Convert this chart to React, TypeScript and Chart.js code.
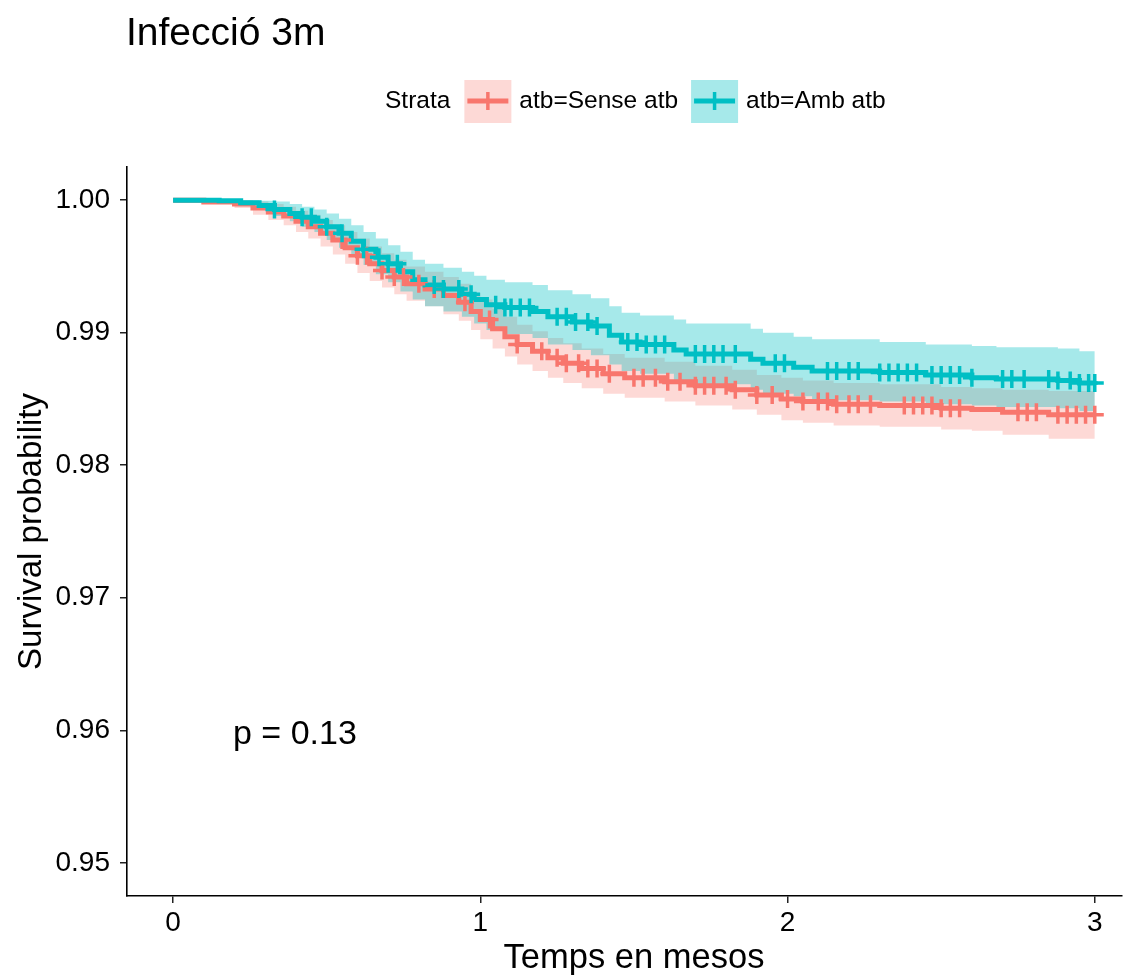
import React, { useEffect, useRef } from "react";
import { Chart, registerables } from "chart.js";

Chart.register(...registerables);

const TITLE = "Infecció 3m";
const LEGEND_TITLE = "Strata";
const SERIES_NAMES = ["atb=Sense atb", "atb=Amb atb"];
const X_TITLE = "Temps en mesos";
const Y_TITLE = "Survival probability";
const X_TICKS = [0, 1, 2, 3];
const Y_TICKS = [0.95, 0.96, 0.97, 0.98, 0.99, 1.0];
const P_LABEL = "p = 0.13";
const P_POS = [0.195, 0.9597];

const RED = "#F8766D";
const TEAL = "#00BFC4";
const RED_FILL = "rgba(248,118,109,0.28)";
const TEAL_FILL = "rgba(0,191,196,0.35)";

// atb=Sense atb
const senseTime = [0, 0.1, 0.2, 0.26, 0.31, 0.36, 0.4, 0.44, 0.48, 0.52, 0.56, 0.6, 0.64, 0.68, 0.72, 0.76, 0.82, 0.88, 0.93, 0.97, 1.0, 1.04, 1.08, 1.12, 1.17, 1.22, 1.27, 1.33, 1.4, 1.47, 1.6, 1.7, 1.82, 1.9, 1.98, 2.05, 2.15, 2.3, 2.5, 2.6, 2.7, 2.85, 3.0];
const senseSurv = [1.0, 0.99985, 0.9997, 0.9994, 0.9991, 0.9988, 0.9984, 0.998, 0.9975, 0.997, 0.9964, 0.9958, 0.9952, 0.9947, 0.9942, 0.9937, 0.9933, 0.9928, 0.9923, 0.9916, 0.991, 0.9903, 0.9897, 0.9891, 0.9886, 0.9881, 0.9877, 0.9873, 0.9869, 0.9866, 0.9863, 0.986, 0.9857, 0.9853, 0.985, 0.9848, 0.9846, 0.9845, 0.9843, 0.9842, 0.984, 0.9838, 0.9838];
const senseUpper = [1.0, 1.0, 1.0, 0.9999, 0.9997, 0.9995, 0.9992, 0.9989, 0.9985, 0.9981, 0.9976, 0.9971, 0.9965, 0.996, 0.9955, 0.995, 0.9946, 0.9942, 0.9937, 0.993, 0.9925, 0.9918, 0.9912, 0.9906, 0.9901, 0.9896, 0.9892, 0.9888, 0.9884, 0.9881, 0.9878, 0.9875, 0.9872, 0.9868, 0.9866, 0.9864, 0.9862, 0.9861, 0.9859, 0.9858, 0.9857, 0.9856, 0.9856];
const senseLower = [1.0, 0.9997, 0.9994, 0.9989, 0.9985, 0.9981, 0.9976, 0.9971, 0.9965, 0.9959, 0.9952, 0.9945, 0.9939, 0.9934, 0.9929, 0.9924, 0.992, 0.9914, 0.9909, 0.9902, 0.9895, 0.9888, 0.9882, 0.9876, 0.9871, 0.9866, 0.9862, 0.9858, 0.9854, 0.9851, 0.9848, 0.9845, 0.9842, 0.9838, 0.9834, 0.9832, 0.983, 0.9829, 0.9827, 0.9826, 0.9823, 0.982, 0.982];
const senseCensor = [0.55, 0.6, 0.63, 0.68, 0.72, 0.75, 0.8, 0.85, 0.95, 1.03, 1.12, 1.2, 1.25, 1.28, 1.32, 1.35, 1.38, 1.42, 1.5, 1.53, 1.57, 1.61, 1.65, 1.7, 1.73, 1.76, 1.8, 1.83, 1.9, 1.95, 2.0, 2.05, 2.1, 2.13, 2.16, 2.2, 2.23, 2.27, 2.38, 2.41, 2.44, 2.47, 2.5, 2.53, 2.56, 2.75, 2.78, 2.81, 2.88, 2.91, 2.94, 2.97, 3.0];

// atb=Amb atb
const ambTime = [0, 0.15, 0.22, 0.28, 0.33, 0.38, 0.42, 0.46, 0.5, 0.54, 0.58, 0.62, 0.66, 0.7, 0.74, 0.78, 0.82, 0.88, 0.94, 0.98, 1.02, 1.08, 1.17, 1.22, 1.3, 1.36, 1.42, 1.46, 1.52, 1.63, 1.67, 1.88, 1.92, 2.02, 2.08, 2.3, 2.45, 2.6, 2.68, 2.88, 2.95, 3.0];
const ambSurv = [1.0, 0.99995, 0.9998, 0.9996, 0.9993, 0.999, 0.9987, 0.9984, 0.998, 0.9975, 0.9969, 0.9963, 0.9957, 0.9952, 0.9946, 0.994, 0.9936, 0.9933, 0.9929, 0.9925, 0.9921, 0.9919, 0.9916, 0.9912, 0.9908, 0.9905, 0.9898, 0.9893, 0.9891, 0.9887, 0.9884, 0.988, 0.9877, 0.9874, 0.9871, 0.987, 0.9868, 0.9866, 0.9865, 0.9864, 0.9862, 0.9862];
const ambUpper = [1.0, 1.0, 1.0, 0.99995, 0.9999, 0.9997, 0.9995, 0.9993, 0.999, 0.9986, 0.9981, 0.9976, 0.9971, 0.9966, 0.9961, 0.9955, 0.9952, 0.9949, 0.9946, 0.9943, 0.994, 0.9938, 0.9936, 0.9932, 0.9929, 0.9926, 0.992, 0.9915, 0.9913, 0.991, 0.9907, 0.9903, 0.99, 0.9897, 0.9895, 0.9893, 0.9891, 0.989, 0.9889, 0.9888, 0.9886, 0.9886];
const ambLower = [1.0, 0.9999, 0.9996, 0.9993, 0.9988, 0.9984, 0.998, 0.9976, 0.997, 0.9964, 0.9958, 0.9951, 0.9944, 0.9938, 0.9931, 0.9925, 0.992, 0.9916, 0.9912, 0.9907, 0.9902, 0.9899, 0.9896, 0.9891, 0.9887, 0.9883, 0.9876, 0.9871, 0.9869, 0.9864, 0.9861, 0.9857, 0.9854, 0.9852, 0.9849, 0.9848, 0.9846, 0.9845, 0.9844, 0.9843, 0.9841, 0.9841];
const ambCensor = [0.33, 0.42, 0.45, 0.5, 0.55, 0.62, 0.67, 0.7, 0.73, 0.85, 0.88, 0.93, 0.97, 1.05, 1.08, 1.1, 1.13, 1.16, 1.25, 1.28, 1.31, 1.35, 1.38, 1.48, 1.51, 1.54, 1.57, 1.6, 1.7, 1.73, 1.76, 1.79, 1.83, 1.96, 1.99, 2.13, 2.16, 2.2, 2.23, 2.3, 2.33, 2.36, 2.39, 2.42, 2.47, 2.5, 2.53, 2.56, 2.6, 2.7, 2.73, 2.77, 2.85, 2.88, 2.92, 2.95, 2.98, 3.0];

const FONT = '"Liberation Sans", Arial, Helvetica, sans-serif';

function pts(times: number[], vals: number[]) {
  return times.map((t, i) => ({ x: t, y: vals[i] }));
}
function stepAt(times: number[], vals: number[], t: number) {
  let v = vals[0];
  for (let i = 0; i < times.length; i++) {
    if (times[i] <= t) v = vals[i];
  }
  return v;
}
function censorPts(c: number[], times: number[], vals: number[]) {
  return c.map((t) => ({ x: t, y: stepAt(times, vals, t) }));
}

const textPlugin = {
  id: "kmTexts",
  afterDraw(chart: any) {
    const ctx = chart.ctx;
    ctx.save();
    ctx.fillStyle = "#000";
    ctx.textAlign = "left";
    ctx.textBaseline = "middle";
    ctx.font = `39px ${FONT}`;
    ctx.fillText(TITLE, 126, 34);

    ctx.font = `24.5px ${FONT}`;
    let x = 385;
    const cy = 101;
    ctx.fillText(LEGEND_TITLE, x, cy);
    x += ctx.measureText(LEGEND_TITLE).width + 14;
    const keys = [
      { fill: RED_FILL, line: RED, label: SERIES_NAMES[0] },
      { fill: TEAL_FILL, line: TEAL, label: SERIES_NAMES[1] },
    ];
    keys.forEach((k) => {
      ctx.fillStyle = k.fill;
      ctx.fillRect(x, cy - 21, 47, 43);
      ctx.strokeStyle = k.line;
      ctx.lineWidth = 5;
      ctx.beginPath();
      ctx.moveTo(x + 3, cy);
      ctx.lineTo(x + 44, cy);
      ctx.stroke();
      ctx.lineWidth = 3.5;
      ctx.beginPath();
      ctx.moveTo(x + 23.5, cy - 9);
      ctx.lineTo(x + 23.5, cy + 9);
      ctx.stroke();
      x += 47 + 8;
      ctx.fillStyle = "#000";
      ctx.fillText(k.label, x, cy);
      x += ctx.measureText(k.label).width + 13;
    });

    const xs = chart.scales.x;
    const ys = chart.scales.y;
    ctx.font = `34px ${FONT}`;
    ctx.fillText(P_LABEL, xs.getPixelForValue(P_POS[0]), ys.getPixelForValue(P_POS[1]));

    // x-axis title centred on the full (uncropped) panel width
    ctx.font = `34.5px ${FONT}`;
    ctx.textAlign = "center";
    ctx.fillText(X_TITLE, 634, 958);
    ctx.restore();
  },
};

export default function App() {
  const ref = useRef<HTMLCanvasElement | null>(null);
  useEffect(() => {
    document.body.style.margin = "0";
    const canvas = ref.current!;
    const bandCommon = { pointRadius: 0, borderWidth: 0, stepped: true as const, tension: 0 };
    const chart = new Chart(canvas, {
      type: "line",
      data: {
        datasets: [
          { label: "senseUpper", data: pts(senseTime, senseUpper), fill: "+1", backgroundColor: RED_FILL, borderColor: "rgba(0,0,0,0)", order: 7, ...bandCommon },
          { label: "senseLower", data: pts(senseTime, senseLower), fill: false, borderColor: "rgba(0,0,0,0)", order: 6, ...bandCommon },
          { label: "ambUpper", data: pts(ambTime, ambUpper), fill: "+1", backgroundColor: TEAL_FILL, borderColor: "rgba(0,0,0,0)", order: 5, ...bandCommon },
          { label: "ambLower", data: pts(ambTime, ambLower), fill: false, borderColor: "rgba(0,0,0,0)", order: 4, ...bandCommon },
          { label: SERIES_NAMES[0], data: pts(senseTime, senseSurv), fill: false, borderColor: RED, borderWidth: 5, pointRadius: 0, stepped: true, order: 3 },
          { label: SERIES_NAMES[1], data: pts(ambTime, ambSurv), fill: false, borderColor: TEAL, borderWidth: 5, pointRadius: 0, stepped: true, order: 2 },
          { label: "senseCensor", data: censorPts(senseCensor, senseTime, senseSurv), showLine: false, pointStyle: "cross", pointRadius: 9, pointBorderWidth: 3.5, pointBorderColor: RED, borderColor: RED, order: 1 },
          { label: "ambCensor", data: censorPts(ambCensor, ambTime, ambSurv), showLine: false, pointStyle: "cross", pointRadius: 9, pointBorderWidth: 3.5, pointBorderColor: TEAL, borderColor: TEAL, order: 0 },
        ] as any,
      },
      options: {
        animation: false,
        responsive: false,
        devicePixelRatio: 1,
        layout: { padding: { top: 167, left: 0, right: 0, bottom: 0 } },
        plugins: { legend: { display: false }, tooltip: { enabled: false }, title: { display: false } },
        scales: {
          x: {
            type: "linear",
            min: -0.15,
            max: 3.087,
            afterBuildTicks: (s: any) => {
              s.ticks = X_TICKS.map((v) => ({ value: v }));
            },
            afterFit: (s: any) => {
              s.height = 83;
            },
            ticks: { color: "#000", font: { family: FONT, size: 28 }, padding: 3, maxRotation: 0, autoSkip: false },
            grid: { drawOnChartArea: false, drawTicks: true, tickLength: 7, color: "#222", lineWidth: 1.5 },
            border: { display: true, color: "#000", width: 1.6 },
            title: { display: false, text: X_TITLE },
          },
          y: {
            type: "linear",
            min: 0.9475,
            max: 1.0025,
            afterBuildTicks: (s: any) => {
              s.ticks = Y_TICKS.map((v) => ({ value: v }));
            },
            afterFit: (s: any) => {
              s.width = 127;
            },
            ticks: { color: "#000", font: { family: FONT, size: 28 }, padding: 10, callback: (v: any) => Number(v).toFixed(2), autoSkip: false },
            grid: { drawOnChartArea: false, drawTicks: true, tickLength: 7, color: "#222", lineWidth: 1.5 },
            border: { display: true, color: "#000", width: 1.6 },
            title: { display: true, text: Y_TITLE, color: "#000", font: { family: FONT, size: 33 }, padding: { top: 12, bottom: 4 } },
          },
        },
      } as any,
      plugins: [textPlugin],
    });
    return () => chart.destroy();
  }, []);
  return <canvas ref={ref} width={1134} height={979} style={{ display: "block", width: 1134, height: 979 }} />;
}
